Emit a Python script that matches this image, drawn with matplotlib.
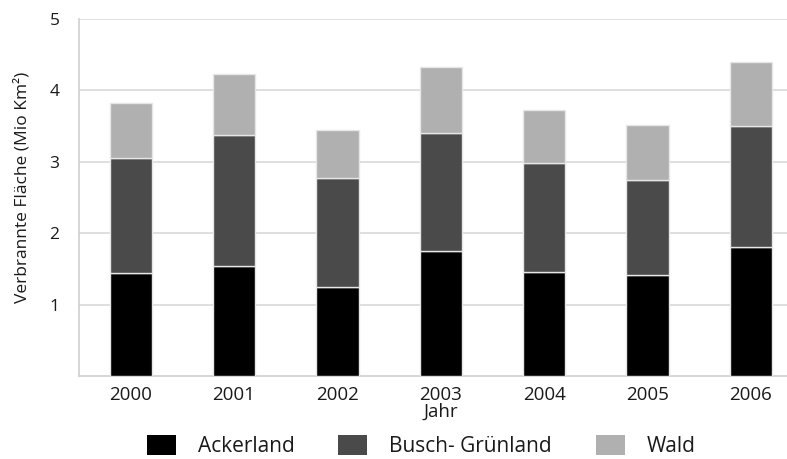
import numpy as np
import matplotlib.pyplot as plt
from matplotlib.patches import Patch

plt.rcParams['font.family'] = ['Open Sans', 'DejaVu Sans']

# data (Mio km²)
years = ['2000', '2001', '2002', '2003', '2004', '2005', '2006']
ackerland = [1.44, 1.54, 1.25, 1.75, 1.46, 1.42, 1.80]
busch_gruenland = [1.62, 1.83, 1.53, 1.66, 1.52, 1.33, 1.70]
wald = [0.76, 0.86, 0.67, 0.92, 0.75, 0.76, 0.90]

labels = ['Ackerland', 'Busch- Grünland', 'Wald']
colors = ['#000000', '#4a4a4a', '#b0b0b0']

fig = plt.figure(figsize=(7.87, 4.59), dpi=100)
ax = fig.add_axes([0.1004, 0.1808, 0.8996, 0.7778])

x = np.arange(len(years))
width = 0.41
bottom = np.zeros(len(years))
for vals, col in zip([ackerland, busch_gruenland, wald], colors):
    ax.bar(x, vals, width, bottom=bottom, color=col, edgecolor='#e6e6e6',
           linewidth=1, zorder=3)
    bottom += np.array(vals)

ax.set_xlim(-0.5, 6.35)
ax.set_ylim(0, 5)
ax.set_yticks([1, 2, 3, 4, 5])
ax.set_xticks(x)
ax.set_xticklabels(years)
ax.yaxis.grid(True, color='#d9d9d9', linewidth=1.2, zorder=0)
ax.tick_params(axis='both', length=0, colors='#1a1a1a')
ax.tick_params(axis='y', pad=14, labelsize=12.5)
ax.tick_params(axis='x', pad=7, labelsize=13.5)

for side in ['top', 'right']:
    ax.spines[side].set_visible(False)
ax.spines['left'].set_color('#d0d0d0')
ax.spines['bottom'].set_color('#d0d0d0')
ax.spines['left'].set_linewidth(1.2)
ax.spines['bottom'].set_linewidth(1.2)

ax.set_xlabel('Jahr', fontsize=13.5, labelpad=-2, color='#1a1a1a')
ax.xaxis.set_label_coords(0.511, -0.075)
ax.set_ylabel('Verbrannte Fläche (Mio Km²)', fontsize=12.5, color='#1a1a1a')
ax.yaxis.set_label_coords(-0.068, 0.528)

handles = [Patch(facecolor=c, edgecolor='none') for c in colors]
leg = fig.legend(handles, labels, loc='center', bbox_to_anchor=(0.535, 0.028),
                 ncol=3, frameon=False, fontsize=15, handlelength=1.4,
                 handleheight=1.05, columnspacing=2.1, handletextpad=1.05,
                 borderpad=0)
for t in leg.get_texts():
    t.set_color('#1a1a1a')

fig.savefig('out.png', dpi=100)
